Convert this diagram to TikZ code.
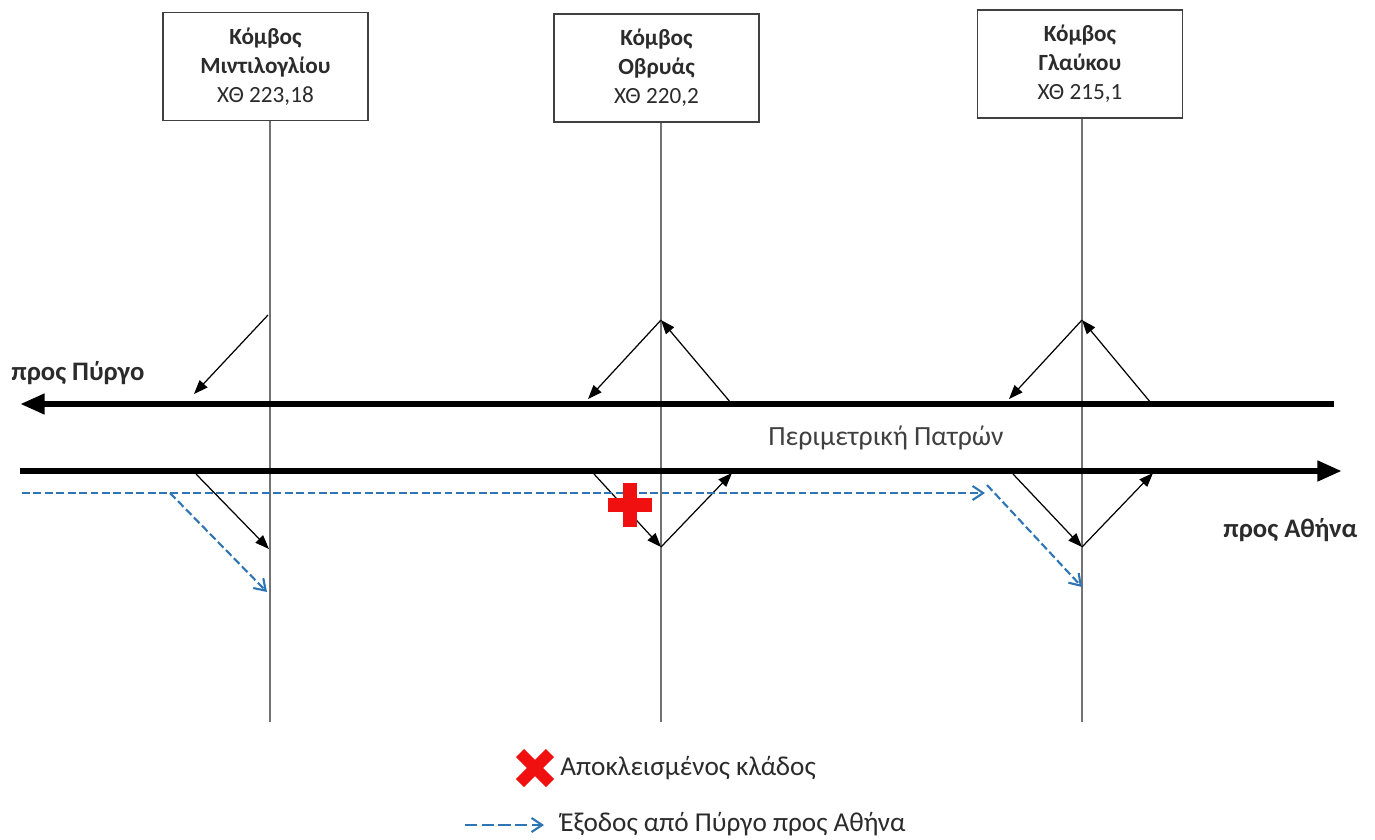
\documentclass[tikz,border=0pt]{standalone}
\usepackage{fontspec}
\setmainfont{Carlito}
\usetikzlibrary{arrows.meta}
\definecolor{txt}{HTML}{2B2B2B}
\definecolor{exitblue}{HTML}{2E75B6}
\definecolor{blockred}{HTML}{F01010}
\begin{document}
\begin{tikzpicture}[x=0.02cm,y=-0.02cm,
  knot/.style={draw=black!75,line width=1.1pt,fill=white,minimum width=205*0.02cm,minimum height=108*0.02cm,align=center,text=txt,font=\fontsize{13.2}{16.5}\selectfont,inner sep=0pt},
  axis/.style={draw=black!55,line width=0.6pt},
  road/.style={line width=3.8pt,-{Triangle[length=14pt,width=11pt]}},
  ramp/.style={line width=0.7pt,-{Triangle[length=8pt,width=6pt]}},
  exitpath/.style={exitblue,line width=1.2pt,dash pattern=on 4.5pt off 2pt,-{Straight Barb[length=6pt,width=8pt]}},
  lbl/.style={text=txt,font=\fontsize{15.5}{17}\selectfont,inner sep=0pt}
]
\useasboundingbox (0,0) rectangle (1375,839);

% junction boxes
\node[knot] (b1) at (265.5,66.5) {\textbf{Κόμβος}\\\textbf{Μιντιλογλίου}\\ΧΘ 223,18};
\node[knot] (b2) at (656.5,68) {\textbf{Κόμβος}\\\textbf{Οβρυάς}\\ΧΘ 220,2};
\node[knot] (b3) at (1080,64) {\textbf{Κόμβος}\\\textbf{Γλαύκου}\\ΧΘ 215,1};

% vertical axes
\coordinate (v1) at (270,722);
\coordinate (v2) at (661,722);
\coordinate (v3) at (1082,722);
\draw[axis] (b1.south -| v1) -- (v1);
\draw[axis] (b2.south -| v2) -- (v2);
\draw[axis] (b3.south -| v3) -- (v3);

% roads
\coordinate (uR) at (1334,404);
\coordinate (uL) at (20,404);
\coordinate (lL) at (20,471);
\coordinate (lR) at (1342,471);
\draw[road] (uR) -- (uL);
\draw[road] (lL) -- (lR);

% ramps junction 1
\coordinate (a1) at (268,315);
\coordinate (a1e) at (194,394);
\coordinate (d1s) at (196,474);
\coordinate (d1e) at (269,549);
\draw[ramp] (a1) -- (a1e);
\draw[ramp] (d1s) -- (d1e);

% ramps junction 2
\coordinate (t2) at (661,320);
\coordinate (t2l) at (588,399);
\coordinate (t2r) at (731,403);
\coordinate (d2s) at (594,474);
\coordinate (m2) at (661,547);
\coordinate (d2e) at (732,473);
\draw[ramp] (t2) -- (t2l);
\draw[ramp] (t2r) -- (t2);
\draw[ramp] (d2s) -- (m2);
\draw[ramp] (m2) -- (d2e);

% ramps junction 3
\coordinate (t3) at (1082,320);
\coordinate (t3l) at (1009,399);
\coordinate (t3r) at (1151,403);
\coordinate (d3s) at (1013,474);
\coordinate (m3) at (1082,547);
\coordinate (d3e) at (1153,473);
\draw[ramp] (t3) -- (t3l);
\draw[ramp] (t3r) -- (t3);
\draw[ramp] (d3s) -- (m3);
\draw[ramp] (m3) -- (d3e);

% blue exit path
\coordinate (e0) at (22,493);
\coordinate (e1) at (170,493);
\coordinate (e1e) at (267,592);
\coordinate (e2) at (985,493);
\coordinate (e3) at (987,485);
\coordinate (e3e) at (1082,587);
\draw[exitpath] (e0) -- (e2);
\draw[exitpath] (e1) -- (e1e);
\draw[exitpath] (e3) -- (e3e);

% blocked branch
\coordinate (x1) at (630,505);
\draw[blockred,line width=8pt] ([xshift=-22*0.02cm]x1) -- ([xshift=22*0.02cm]x1);
\draw[blockred,line width=8pt] ([yshift=22*0.02cm]x1) -- ([yshift=-22*0.02cm]x1);

% labels
\node[lbl,anchor=west,font=\fontsize{15.2}{17}\selectfont\bfseries] (pp) at (11,373) {προς Πύργο};
\node[lbl,anchor=west,font=\fontsize{15.2}{17}\selectfont\bfseries] (pa) at (1223,530) {προς Αθήνα};
\node[lbl,text=black!75,font=\fontsize{15.8}{17}\selectfont] (per) at (886,438) {Περιμετρική Πατρών};

% legend
\coordinate (lx) at (535,768);
\draw[blockred,line width=6.5pt] ([shift={(-15,-15)}]lx) -- ([shift={(15,15)}]lx);
\draw[blockred,line width=6.5pt] ([shift={(-15,15)}]lx) -- ([shift={(15,-15)}]lx);
\node[lbl,anchor=west] (leg1) at (560,768) {Αποκλεισμένος κλάδος};
\coordinate (lb0) at (465,825);
\coordinate (lb1) at (544,825);
\draw[exitpath,dash pattern=on 7pt off 2.5pt] (lb0) -- (lb1);
\node[lbl,anchor=west] (leg2) at (560,824) {Έξοδος από Πύργο προς Αθήνα};
\end{tikzpicture}
\end{document}
